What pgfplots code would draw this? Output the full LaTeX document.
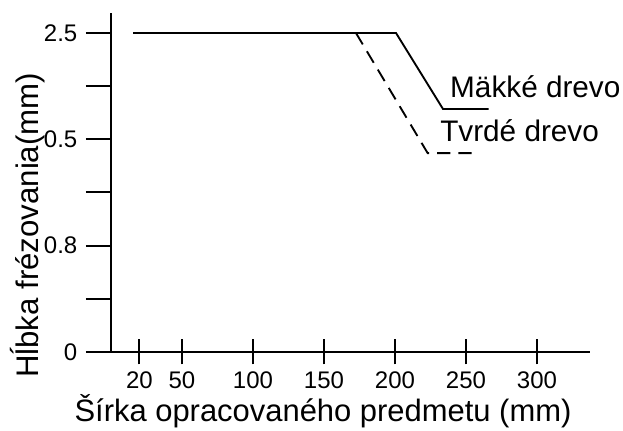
\documentclass[border=0pt]{standalone}
\usepackage{pgfplots}
\pgfplotsset{compat=1.18}
\usepackage{fontspec}
\setmainfont{Liberation Sans}
\newcommand{\tl}[1]{{\fontsize{18}{20}\selectfont #1}}
\begin{document}
\begin{tikzpicture}
\begin{axis}[
  scale only axis, width=359.25pt, height=254.25pt,
  xmin=0, xmax=337.3, ymin=0, ymax=6.376,
  axis x line=bottom, axis y line=left,
  axis line style={line width=2.1pt, -},
  xtick={20,50,100,150,200,250,300},
  xticklabels={\tl{20},\tl{50},\tl{100},\tl{150},\tl{200},\tl{250},\tl{300}},
  ytick={0,1,2,3,4,5,6}, yticklabels={\tl{0},,\tl{0.8},,\tl{0.5},,\tl{2.5}},
  major tick length=18.75pt,
  xtick align=center, ytick align=outside,
  tick style={line width=1.5pt, black},
  xticklabel style={yshift=-2pt},
  yticklabel style={anchor=east, xshift=-3pt},
  clip=false,
]
\addplot[black, line width=1.4pt] coordinates {(15.5,6) (200.7,6) (233.8,4.57) (266,4.57)};
\addplot[black, line width=1.4pt, dash pattern=on 10pt off 6pt] coordinates {(172.5,6) (223,3.74) (255,3.74)};
\node[anchor=base west, inner sep=0, font=\fontsize{22.3}{24}\selectfont] at (axis cs:238.7,4.777) {Mäkké drevo};
\node[anchor=base west, inner sep=0, font=\fontsize{22.3}{24}\selectfont] at (axis cs:231.7,3.95) {Tvrdé drevo};
\node[anchor=base, inner sep=0, font=\fontsize{23.2}{25}\selectfont] at (axis cs:149.3,-1.317) {Šírka opracovaného predmetu (mm)};
\node[rotate=90, inner sep=0, font=\fontsize{23.4}{25}\selectfont] at (axis cs:-58.5,2.38) {Hĺbka frézovania(mm)};
\coordinate (BL) at (axis cs:-78.17,-1.486);
\coordinate (TR) at (axis cs:360.56,6.62);
\end{axis}
\pgfresetboundingbox
\path[use as bounding box] (BL) rectangle (TR);
\end{tikzpicture}
\end{document}
